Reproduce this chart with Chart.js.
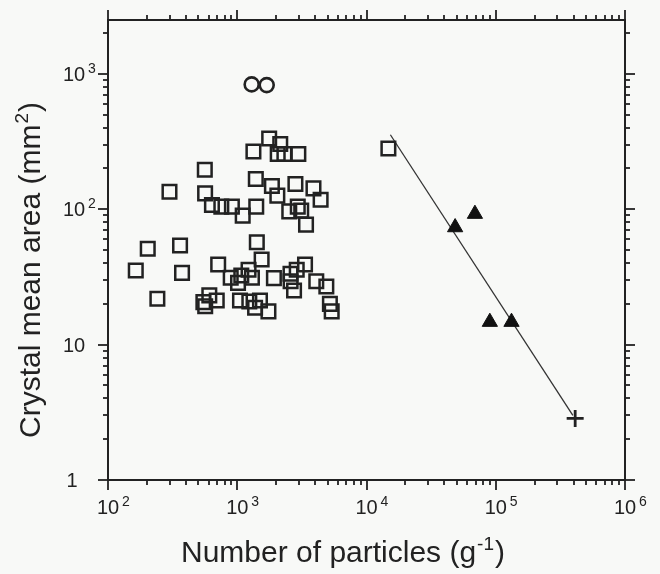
<!DOCTYPE html>
<html>
<head>
<meta charset="utf-8">
<script src="https://cdn.jsdelivr.net/npm/chart.js@4.4.1/dist/chart.umd.min.js"></script>
<style>
    html, body { margin: 0; padding: 0; background: #f8f9f7; }
    #wrap { width: 660px; height: 574px; }
</style>
</head>
<body>
<div id="wrap"><canvas id="canvaCristales" width="660" height="574"></canvas></div>
<script>
// open squares
const squaresX = [299, 561, 564, 637, 753, 909, 1102, 1403, 1334, 1392, 1766, 2151, 2056, 2316, 2970, 1854, 2043, 2819, 3888, 4416, 2526, 2939, 3126, 3405,
    203, 361, 1417, 164, 374, 712, 1544, 241, 890, 1014, 1075, 1223, 1299, 1921, 2582, 2587, 2885, 3345, 2751, 4088, 4890,
    547, 608, 694, 565, 1050, 1240, 1499, 1374, 1743, 5209, 5379, 14770];
const squaresY = [134.8, 195.7, 131, 107.6, 104.5, 104.5, 89.7, 104.5, 267, 167.2, 333, 303, 255.6, 255.6, 255.6, 148.5, 126, 153.6, 142.6, 117.7, 96.5, 104.5, 97.7, 77,
    51, 53.9, 57, 35.3, 33.9, 39.1, 42.5, 21.8, 31.2, 28.6, 32.4, 35.7, 31.2, 31, 33.4, 29.4, 35.7, 39.1, 25.1, 29.4, 26.9,
    20.6, 23.1, 21.2, 19.2, 21.2, 20.8, 21.2, 18.7, 17.6, 20, 17.6, 281];
// open circles
const circlesX = [1293, 1690];
const circlesY = [836, 826];
// filled triangles
const trianglesX = [48500, 69000, 90000, 132400];
const trianglesY = [73.5, 92.3, 14.7, 14.7];
// cross
const crossX = [411600];
const crossY = [2.85];
// fitted line
const fitX = [15300, 395000];
const fitY = [355, 3.0];

const xTicks = [1e2, 1e3, 1e4, 1e5, 1e6];
const xTickLabels = [['10', '2'], ['10', '3'], ['10', '4'], ['10', '5'], ['10', '6']];
const yTicks = [1, 10, 100, 1000];
const yTickLabels = [['1', ''], ['10', ''], ['10', '2'], ['10', '3']];
const xTitle = ['Number of particles (g', '-1', ')'];
const yTitle = ['Crystal mean area (mm', '2', ')'];

const ink = '#222';
const font = '"Liberation Sans", Arial, Helvetica, sans-serif';

function pares(xs, ys) {
    return xs.map((v, i) => ({ x: v, y: ys[i] }));
}

function minorTicks(min, max) {
    const out = [];
    for (let d = Math.floor(Math.log10(min)); d <= Math.ceil(Math.log10(max)); d++) {
        for (let k = 2; k <= 9; k++) {
            const v = k * Math.pow(10, d);
            if (v > min && v < max) out.push(v);
        }
    }
    return out;
}

// text with a raised exponent, x is the centre of the base part
function textoSup(ctx, base, sup, x, y, size, supSize, rise) {
    ctx.font = size + 'px ' + font;
    const w = ctx.measureText(base).width;
    ctx.textAlign = 'left';
    ctx.fillText(base, x - w / 2, y);
    if (sup) {
        ctx.font = supSize + 'px ' + font;
        ctx.fillText(sup, x + w / 2 + 3, y - rise);
    }
}

function titulo(ctx, parts, cx, y, size, supSize, rise) {
    ctx.font = size + 'px ' + font;
    const w0 = ctx.measureText(parts[0]).width;
    const w2 = ctx.measureText(parts[2]).width;
    ctx.font = supSize + 'px ' + font;
    const w1 = ctx.measureText(parts[1]).width + 2;
    let x = cx - (w0 + w1 + w2) / 2;
    ctx.textAlign = 'left';
    ctx.font = size + 'px ' + font;
    ctx.fillText(parts[0], x, y);
    ctx.font = supSize + 'px ' + font;
    ctx.fillText(parts[1], x + w0 + 1, y - rise);
    ctx.font = size + 'px ' + font;
    ctx.fillText(parts[2], x + w0 + w1, y);
}

const marco = {
    id: 'marco',
    afterDatasetsDraw(chart) {
        const { ctx, chartArea: a, scales: { x, y } } = chart;
        ctx.save();
        ctx.strokeStyle = ink;
        ctx.fillStyle = ink;
        ctx.lineWidth = 2;
        ctx.strokeRect(a.left, a.top, a.right - a.left, a.bottom - a.top);

        const seg = (x1, y1, x2, y2) => {
            ctx.beginPath();
            ctx.moveTo(x1, y1);
            ctx.lineTo(x2, y2);
            ctx.stroke();
        };
        ctx.lineWidth = 1.8;
        minorTicks(x.min, x.max).forEach(v => {
            const px = Math.round(x.getPixelForValue(v));
            seg(px, a.bottom, px, a.bottom + 5);
            seg(px, a.top, px, a.top - 5);
        });
        xTicks.forEach(v => {
            const px = Math.round(x.getPixelForValue(v));
            seg(px, a.bottom, px, a.bottom + 10);
            seg(px, a.top, px, a.top - 10);
        });
        minorTicks(y.min, y.max).forEach(v => {
            const py = Math.round(y.getPixelForValue(v));
            seg(a.left, py, a.left - 5, py);
            seg(a.right, py, a.right + 5, py);
        });
        yTicks.forEach(v => {
            const py = Math.round(y.getPixelForValue(v));
            seg(a.left, py, a.left - 10, py);
            seg(a.right, py, a.right + 10, py);
        });

        ctx.textBaseline = 'alphabetic';
        xTicks.forEach((v, i) => {
            const px = x.getPixelForValue(v);
            textoSup(ctx, xTickLabels[i][0], xTickLabels[i][1], px, a.bottom + 34, 20, 14, 8);
        });
        yTicks.forEach((v, i) => {
            const py = y.getPixelForValue(v);
            const cx = yTickLabels[i][0] == '1' ? 72 : 74;
            textoSup(ctx, yTickLabels[i][0], yTickLabels[i][1], cx, py + 7, 20, 14, 8);
        });

        titulo(ctx, xTitle, 343, 562, 30, 19, 12);
        ctx.translate(40, 270);
        ctx.rotate(-Math.PI / 2);
        titulo(ctx, yTitle, 0, 0, 30, 19, 12);
        ctx.restore();
    }
};

new Chart(document.getElementById('canvaCristales'), {
    type: 'scatter',
    plugins: [marco],
    data: {
        datasets: [
            {
                label: 'squares',
                data: pares(squaresX, squaresY),
                pointStyle: 'rect',
                pointRadius: 9.6,
                borderWidth: 2.5,
                borderColor: ink,
                backgroundColor: 'rgba(0,0,0,0)'
            }, {
                label: 'circles',
                data: pares(circlesX, circlesY),
                pointStyle: 'circle',
                pointRadius: 7,
                borderWidth: 2.6,
                borderColor: ink,
                backgroundColor: 'rgba(0,0,0,0)'
            }, {
                label: 'triangles',
                data: pares(trianglesX, trianglesY),
                pointStyle: 'triangle',
                pointRadius: 8.8,
                borderWidth: 1,
                borderColor: '#111',
                backgroundColor: '#111'
            }, {
                label: 'cross',
                data: pares(crossX, crossY),
                pointStyle: 'cross',
                pointRadius: 8.5,
                borderWidth: 2.8,
                borderColor: ink
            }, {
                label: 'fit',
                data: pares(fitX, fitY),
                showLine: true,
                pointRadius: 0,
                borderWidth: 1.3,
                borderColor: '#333',
                fill: false
            }
        ]
    },
    options: {
        responsive: false,
        animation: false,
        layout: { padding: { left: 108, right: 35, top: 20, bottom: 94 } },
        plugins: {
            legend: { display: false },
            tooltip: { enabled: false }
        },
        scales: {
            x: { type: 'logarithmic', min: 100, max: 1e6, display: false },
            y: { type: 'logarithmic', min: 1, max: 2500, display: false }
        }
    }
});
</script>
</body>
</html>
